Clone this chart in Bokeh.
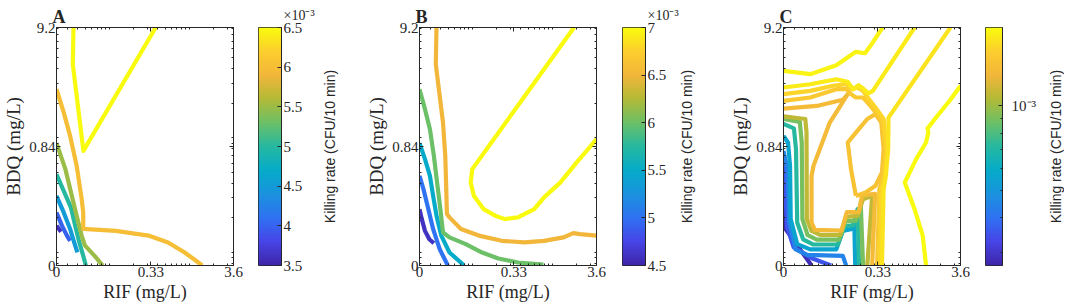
import math
import numpy as np
from bokeh.plotting import figure
from bokeh.layouts import row
from bokeh.models import (FixedTicker, LinearAxis, Label, Range1d, LinearColorMapper,
                          LogColorMapper, NumeralTickFormatter)
from bokeh.embed import file_html
from bokeh.resources import INLINE

# ---------------- axes (mg/L, log scale; lowest tick is the "0" concentration) -------------
RIF_TICKS = [0.0216, 0.33, 3.6]
RIF_TICK_LABELS = ["0", "0.33", "3.6"]
RIF_MINOR = [0.03, 0.04, 0.05, 0.06, 0.07, 0.08, 0.09, 0.1, 0.2, 0.3, 0.4, 0.5, 0.6, 0.7,
             0.8, 0.9, 1, 2, 3]
BDQ_TICKS = [0.0767, 0.84, 9.2]
BDQ_TICK_LABELS = ["0", "0.84", "9.2"]
BDQ_MINOR = [0.08, 0.09, 0.1, 0.2, 0.3, 0.4, 0.5, 0.6, 0.7, 0.8, 0.9, 1, 2, 3, 4, 5, 6, 7, 8, 9]

# ---------------- panel A: killing-rate contours (x1e-3 CFU/10 min) ----------------
A_CBAR = [3.5, 6.5]
A_CBAR_TICKS = [3.5, 4, 4.5, 5, 5.5, 6, 6.5]
A_LEVELS = [3.6, 4.0, 4.5, 5.0, 5.5, 6.0, 6.5]
A_RIF = [
    [0.0216, 0.0246],
    [0.0216, 0.0253, 0.0292, 0.032],
    [0.0216, 0.0266, 0.032, 0.036, 0.0395],
    [0.0216, 0.0271, 0.0327, 0.037, 0.0418, 0.0468, 0.0505],
    [0.0216, 0.0279, 0.0336, 0.0387, 0.0447, 0.049, 0.065, 0.082],
    [0.0216, 0.0266, 0.032, 0.0387, 0.0447, 0.0468, 0.0468, 0.120, 0.308, 0.543, 0.868, 1.15, 1.46],
    [0.0353, 0.0346, 0.047, 0.38],
]
A_BDQ = [
    [0.171, 0.151],
    [0.223, 0.171, 0.140, 0.126],
    [0.312, 0.223, 0.160, 0.122, 0.100],
    [0.48, 0.334, 0.247, 0.171, 0.122, 0.093, 0.0767],
    [0.90, 0.533, 0.312, 0.209, 0.140, 0.115, 0.093, 0.0767],
    [2.66, 1.67, 1.04, 0.57, 0.292, 0.223, 0.160, 0.154, 0.140, 0.122, 0.100, 0.087, 0.0767],
    [9.2, 4.4, 0.77, 9.2],
]

# ---------------- panel B ----------------
B_CBAR = [4.5, 7.0]
B_CBAR_TICKS = [4.5, 5, 5.5, 6, 6.5, 7]
B_LEVELS = [4.6, 5.0, 5.5, 6.0, 6.5, 7.0]
B_RIF = [
    [0.0216, 0.0231, 0.0253, 0.0287, 0.0327],
    [0.0216, 0.0242, 0.0279, 0.032, 0.0387, 0.049],
    [0.0216, 0.0253, 0.0292, 0.032, 0.0353, 0.0405, 0.0514, 0.0786],
    [0.0216, 0.0253, 0.0292, 0.0327, 0.0359, 0.0395, 0.0426, 0.0514, 0.0823, 0.132, 0.211, 0.372, 0.775],
    [0.0353, 0.0346, 0.0387, 0.0426, 0.0455, 0.0468, 0.0477, 0.0514, 0.0715, 0.120, 0.232, 0.449,
     0.788, 1.39, 1.84, 2.23, 3.6],
    [1.88, 0.0993, 0.0948, 0.104, 0.138, 0.192, 0.255, 0.371, 0.595, 0.791, 1.27, 2.03, 2.95, 3.6],
]
B_BDQ = [
    [0.238, 0.195, 0.154, 0.130, 0.120],
    [0.466, 0.357, 0.238, 0.160, 0.1065, 0.0767],
    [0.90, 0.652, 0.466, 0.312, 0.209, 0.140, 0.0996, 0.0767],
    [2.66, 1.78, 1.19, 0.697, 0.408, 0.238, 0.149, 0.135, 0.118, 0.0996, 0.0883, 0.0815, 0.078],
    [9.2, 4.40, 2.33, 1.36, 0.697, 0.357, 0.216, 0.202, 0.160, 0.140, 0.126, 0.122, 0.126, 0.135,
     0.147, 0.144, 0.140],
    [9.2, 0.533, 0.408, 0.312, 0.238, 0.209, 0.195, 0.202, 0.238, 0.302, 0.408, 0.610, 0.824, 0.974],
]

# ---------------- panel C (CFU/10 min, log colour scale) ----------------
C_CBAR = [2.7e-4, 1.9e-3]
C_CBAR_TICKS = [1e-3]
C_CBAR_MINOR = [3e-4, 4e-4, 5e-4, 6e-4, 7e-4, 8e-4, 9e-4]
C_LEVELS = [2.8e-4, 3.5e-4, 4.4e-4, 5.6e-4, 7.2e-4, 9.0e-4, 1.1e-3, 1.34e-3, 1.42e-3,
            1.5e-3, 1.6e-3, 1.72e-3, 1.78e-3, 1.84e-3, 1.9e-3]
C_RIF = [
    [0.0216, 0.0229, 0.0486],
    [0.0218, 0.024, 0.0289, 0.0509, 0.0855],
    [0.0216, 0.0242, 0.0255, 0.0306, 0.0426, 0.120, 0.1319],
    [0.0216, 0.0246, 0.0261, 0.0266, 0.0321, 0.0468, 0.0994, 0.120, 0.152, 0.167, 0.1717],
    [0.0216, 0.0292, 0.031, 0.0321, 0.0381, 0.0514, 0.104, 0.1258, 0.162, 0.1834, 0.192],
    [0.0216, 0.0346, 0.0366, 0.0373, 0.0434, 0.0565, 0.1072, 0.1295, 0.175, 0.2016, 0.2153],
    [0.0216, 0.0406, 0.042, 0.0424, 0.0486, 0.0621, 0.1113, 0.1319, 0.1834, 0.2153, 0.280, 0.2434],
    [0.0216, 0.0565, 0.120, 0.1383, 0.0823, 0.0514, 0.0486, 0.0486, 0.0536, 0.1156, 0.1344, 0.190,
     0.209, 0.305, 0.280],
    [0.175, 0.152, 0.1383, 0.175, 0.2434, 0.308, 0.365, 0.390, 0.372, 0.308, 0.232, 0.175],
    [0.0216, 0.0468, 0.0994, 0.134, 0.152, 0.175, 0.2153, 0.267, 0.323, 0.379, 0.408, 0.390,
     0.345, 0.323],
    [0.0216, 0.0468, 0.0905, 0.1319, 0.1563, 0.1834, 0.2153, 0.255, 0.308, 0.390, 0.428, 0.408,
     0.365, 0.345],
    [2.69, 0.449, 0.445, 0.416, 0.390, 0.372],
    [0.0216, 0.0468, 0.0994, 0.1383, 0.162, 0.189, 0.2153, 0.250, 0.286, 0.955],
    [0.0216, 0.0468, 0.0994, 0.175, 0.228, 0.267, 0.379],
    [1.33, 1.21, 0.955, 0.719, 1.00, 1.33, 1.42, 1.39, 1.85, 2.69, 3.6],
]
C_BDQ = [
    [0.407, 0.160, 0.0767],
    [0.593, 0.166, 0.111, 0.0877, 0.0767],
    [0.770, 0.532, 0.182, 0.106, 0.095, 0.093, 0.0767],
    [1.04, 0.910, 0.569, 0.195, 0.118, 0.106, 0.106, 0.154, 0.159, 0.182, 0.0767],
    [1.32, 1.21, 0.796, 0.182, 0.130, 0.117, 0.117, 0.169, 0.172, 0.238, 0.0767],
    [1.46, 1.38, 0.910, 0.195, 0.141, 0.129, 0.129, 0.186, 0.189, 0.263, 0.0767],
    [1.54, 1.46, 1.11, 0.195, 0.154, 0.142, 0.142, 0.204, 0.208, 0.291, 0.311, 0.0767],
    [1.80, 1.90, 2.15, 2.41, 1.36, 0.569, 0.466, 0.182, 0.157, 0.155, 0.224, 0.224, 0.314, 0.324,
     0.0767],
    [0.311, 0.532, 0.910, 1.11, 1.46, 1.61, 1.36, 0.796, 0.498, 0.381, 0.333, 0.311],
    [2.10, 2.25, 2.66, 2.66, 2.41, 2.25, 2.25, 1.90, 1.61, 1.36, 0.796, 0.466, 0.356, 0.0767],
    [2.41, 2.57, 2.85, 2.94, 2.66, 2.75, 2.57, 2.18, 1.84, 1.46, 0.796, 0.466, 0.356, 0.0767],
    [9.2, 1.50, 0.796, 0.466, 0.356, 0.0767],
    [2.75, 2.94, 3.25, 3.08, 2.66, 2.88, 2.70, 2.45, 2.57, 9.2],
    [3.85, 3.60, 4.31, 5.64, 5.48, 6.36, 9.2],
    [0.0767, 0.139, 0.238, 0.407, 0.651, 0.910, 1.11, 1.21, 1.56, 2.15, 2.85],
]

# ---------------- styling ----------------
PARULA_T = [0.0, 0.1, 0.2, 0.3, 0.4, 0.5, 0.6, 0.7, 0.8, 0.9, 1.0]
PARULA_C = ["#3E26A8", "#4745E8", "#2F72F2", "#1A93DE", "#06ABC9", "#26B9A1", "#6CC067",
            "#B2BA36", "#F2B63A", "#FCCE2E", "#F9FB0E"]
INK = "#262626"
SERIF = "Liberation Serif"
SANS = "Liberation Sans"
H = 306
TOP = 27
BOT = 41
FH = H - TOP - BOT
CB_TITLE = "Killing rate (CFU/10 min)"
EXP_TEXT = "\u00d710\u207b\u00b3"


def lg(vals):
    return [math.log10(v) for v in vals]


def build_palette(n=256):
    rgb = [tuple(int(h[i:i + 2], 16) for i in (1, 3, 5)) for h in PARULA_C]
    out = []
    for k in range(n):
        t = k / (n - 1)
        i = 0
        while i < len(PARULA_T) - 2 and t > PARULA_T[i + 1]:
            i += 1
        f = (t - PARULA_T[i]) / (PARULA_T[i + 1] - PARULA_T[i])
        c = [round(rgb[i][j] * (1 - f) + rgb[i + 1][j] * f) for j in range(3)]
        out.append("#%02x%02x%02x" % tuple(c))
    return out


PAL = build_palette()


def level_color(v, lo, hi, log=False):
    if log:
        t = (math.log(v) - math.log(lo)) / (math.log(hi) - math.log(lo))
    else:
        t = (v - lo) / (hi - lo)
    t = min(max(t, 0.0), 1.0)
    return PAL[int(round(t * (len(PAL) - 1)))]


def style_axis(ax, labels=True, label_size="17px"):
    ax.axis_line_color = INK
    ax.axis_line_width = 1
    ax.major_tick_line_color = INK
    ax.minor_tick_line_color = INK
    ax.major_tick_in = 4
    ax.major_tick_out = 0
    ax.minor_tick_in = 2
    ax.minor_tick_out = 0
    ax.major_label_text_font = SERIF
    ax.major_label_text_font_size = "15px" if labels else "1px"
    ax.major_label_text_color = INK if labels else None
    ax.major_label_standoff = 1 if labels else 0
    ax.axis_label_text_font = SERIF
    ax.axis_label_text_font_size = label_size
    ax.axis_label_text_font_style = "normal"
    ax.axis_label_text_color = INK
    ax.axis_label_standoff = 2


def log_ticker(ticks, minor):
    return FixedTicker(ticks=lg(ticks), minor_ticks=lg(minor))


def make_main(letter, levels, rifs, bdqs, lo, hi, log, bl=52, br=10):
    # RIF and BDQ are plotted on logarithmic axes (linear scale over log10 of mg/L)
    p = figure(width=bl + 181 + br, height=H,
               x_range=Range1d(*lg([RIF_TICKS[0], RIF_TICKS[-1]])),
               y_range=Range1d(*lg([BDQ_TICKS[0], BDQ_TICKS[-1]])),
               output_backend="svg", toolbar_location=None,
               min_border_left=bl, min_border_right=br, min_border_top=TOP,
               min_border_bottom=BOT)
    p.grid.visible = False
    p.outline_line_color = INK
    p.outline_line_width = 1
    p.background_fill_color = "white"
    p.border_fill_color = "white"

    xa = p.xaxis[0]
    xa.ticker = log_ticker(RIF_TICKS, RIF_MINOR)
    xa.major_label_overrides = dict(zip(lg(RIF_TICKS), RIF_TICK_LABELS))
    xa.axis_label = "RIF (mg/L)"
    style_axis(xa, label_size="18px")
    ya = p.yaxis[0]
    ya.ticker = log_ticker(BDQ_TICKS, BDQ_MINOR)
    ya.major_label_overrides = dict(zip(lg(BDQ_TICKS), BDQ_TICK_LABELS))
    ya.axis_label = "BDQ (mg/L)"
    style_axis(ya, label_size="19px")

    top = LinearAxis(ticker=log_ticker(RIF_TICKS, RIF_MINOR))
    style_axis(top, labels=False)
    p.add_layout(top, "above")
    right = LinearAxis(ticker=log_ticker(BDQ_TICKS, BDQ_MINOR))
    style_axis(right, labels=False)
    p.add_layout(right, "right")

    for lev, xs, ys in zip(levels, rifs, bdqs):
        p.line(lg(xs), lg(ys), line_color=level_color(lev, lo, hi, log), line_width=4.2,
               line_join="round", line_cap="butt")

    p.title.text = letter
    p.title.text_font = SERIF
    p.title.text_font_size = "18px"
    p.title.text_font_style = "bold"
    p.title.text_color = INK
    p.title.align = "left"
    p.title.offset = -4
    p.title.standoff = 2
    return p


def make_cbar(lo, hi, ticks, log, bl, br, exp=True, minor=None, overrides=None, standoff=2):
    p = figure(width=bl + 23 + br, height=H, x_range=Range1d(0, 1), y_range=Range1d(lo, hi),
               y_axis_type="log" if log else "linear", y_axis_location="right",
               x_axis_location=None, output_backend="svg", toolbar_location=None,
               min_border_left=bl, min_border_right=br, min_border_top=TOP,
               min_border_bottom=BOT)
    p.grid.visible = False
    p.outline_line_color = INK
    p.outline_line_width = 1
    vals = np.geomspace(lo, hi, 256) if log else np.linspace(lo, hi, 256)
    mapper = (LogColorMapper if log else LinearColorMapper)(palette=PAL, low=lo, high=hi)
    p.image(image=[vals.reshape(-1, 1)], x=0, y=lo, dw=1, dh=hi - lo, color_mapper=mapper)
    ya = p.yaxis[0]
    ya.ticker = FixedTicker(ticks=ticks, minor_ticks=minor or [])
    style_axis(ya)
    ya.major_label_standoff = standoff
    if overrides:
        ya.major_label_overrides = overrides
    else:
        ya.formatter = NumeralTickFormatter(format="0.[0]")
    if exp:
        p.title.text = EXP_TEXT
        p.title.text_font = SERIF
        p.title.text_font_size = "14px"
        p.title.text_font_style = "normal"
        p.title.text_color = INK
        p.title.align = "left"
        p.title.offset = 25
        p.title.standoff = 9
    return p


def make_title_fig(width, cx):
    p = figure(width=width, height=H, x_range=Range1d(0, 1), y_range=Range1d(0, 1),
               x_axis_location=None, y_axis_location=None, output_backend="svg",
               toolbar_location=None, min_border_left=0, min_border_right=0,
               min_border_top=TOP, min_border_bottom=BOT)
    p.grid.visible = False
    p.outline_line_color = None
    p.add_layout(Label(x=cx, y=FH / 2, x_units="screen", y_units="screen",
                       text=CB_TITLE, angle=math.pi / 2, text_font=SANS,
                       text_font_size="14px", text_color=INK, text_align="center",
                       text_baseline="middle"))
    return p


pa = make_main("A", A_LEVELS, A_RIF, A_BDQ, A_CBAR[0], A_CBAR[1], False)
ca = make_cbar(A_CBAR[0], A_CBAR[1], A_CBAR_TICKS, False, 15, 35)
ta = make_title_fig(47, 13)
pb = make_main("B", B_LEVELS, B_RIF, B_BDQ, B_CBAR[0], B_CBAR[1], False)
cb = make_cbar(B_CBAR[0], B_CBAR[1], B_CBAR_TICKS, False, 16, 34)
tb = make_title_fig(48, 7)
pc = make_main("C", C_LEVELS, C_RIF, C_BDQ, C_CBAR[0], C_CBAR[1], True)
cc = make_cbar(C_CBAR[0], C_CBAR[1], C_CBAR_TICKS, True, 15, 30, exp=False,
               minor=C_CBAR_MINOR, overrides={1e-3: "10\u207b\u00b3"}, standoff=9)
tc = make_title_fig(26, 17)

layout = row(pa, ca, ta, pb, cb, tb, pc, cc, tc)
open("out.html", "w").write(file_html(layout, INLINE))
